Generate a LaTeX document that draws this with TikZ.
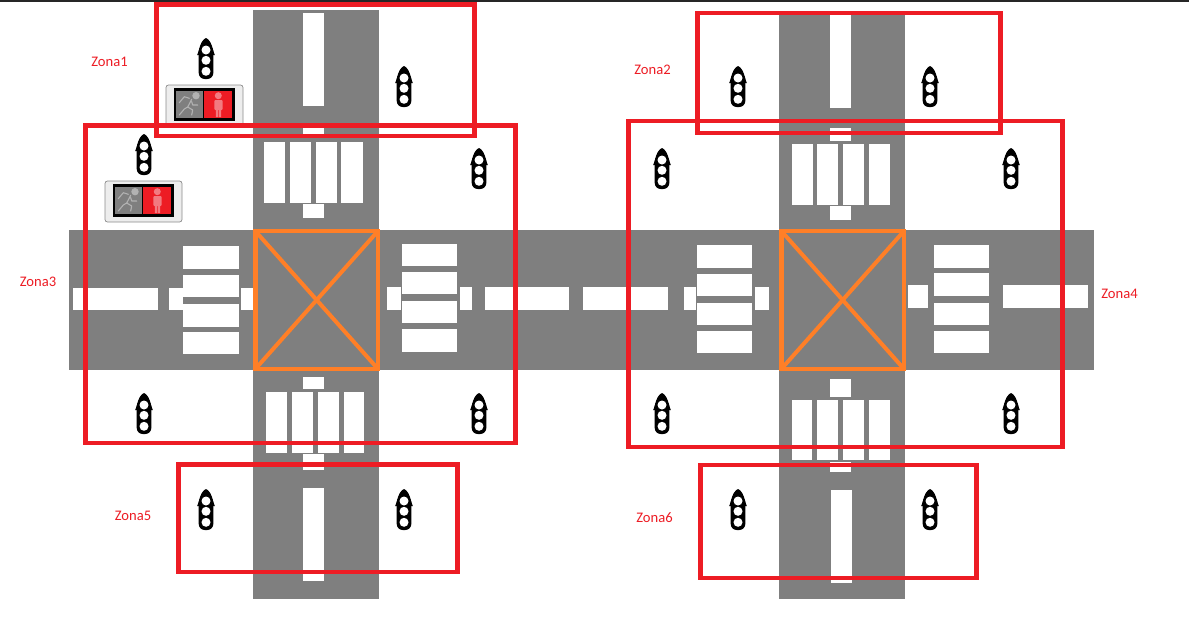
\documentclass[tikz,border=0pt]{standalone}
\usepackage{fontspec}
\setmainfont{Carlito}
\definecolor{road}{HTML}{7F7F7F}
\definecolor{zonered}{HTML}{ED1C24}
\definecolor{xorange}{HTML}{FF7F27}
\definecolor{palefig}{HTML}{F27A80}
\tikzset{
  zonebox/.style={draw=zonered,line width=4.7pt},
  marking/.style={fill=white},
  zonelabel/.style={text=zonered,font=\fontsize{14.6}{16}\selectfont,inner sep=0pt},
  crossbox/.style={draw=xorange,line width=4.4pt},
  crossline/.style={draw=xorange,line width=4pt},
  tlight/.pic={
    \fill[black] (0,-21) .. controls (3,-20) and (6,-15) .. (7,-9) -- (8.8,-4) -- (-8.8,-4) -- (-7,-9) .. controls (-6,-15) and (-3,-20) .. (0,-21) -- cycle;
    \fill[black,rounded corners=6pt] (-7.3,-14) rectangle (7.3,20);
    \foreach \cy in {-9,1.3,12.3}{\fill[white] (0,\cy) circle (4.5);}
  },
  pedsignal/.pic={
    \draw[draw=black!45,fill=black!7,rounded corners=2.5pt,line width=0.7pt] (0,0) rectangle (77,41);
    \fill[black] (8,3) rectangle (69,36);
    \fill[road] (10,6) rectangle (37,33);
    \fill[zonered] (38,6) rectangle (66,33);
    \fill[black!30] (30,10.7) circle (3.7);
    \draw[black!30,line width=1.1pt,line join=round,line cap=round]
      (23.3,13.3) -- (18.3,11.7) -- (13.3,17.7)
      (25.7,14.3) -- (21.7,22) -- (26.7,25) -- (25.7,30)
      (21.7,22) -- (18.3,24) -- (13.3,30)
      (25.7,16.7) -- (26.7,20) -- (31.7,20);
    \fill[palefig] (52.3,10.7) circle (3.5);
    \fill[palefig,rounded corners=1pt] (48.3,15) rectangle (56.7,25);
    \fill[palefig] (49.8,25) rectangle (52,32) (52.8,25) rectangle (55,32);
  }
}
\begin{document}
\begin{tikzpicture}[x=1pt,y=-1pt]
\useasboundingbox (0,0) rectangle (1189,641);
\fill[white] (0,0) rectangle (1189,641);
\fill[black!85] (0,0) rectangle (1189,1.5);
% roads
\fill[road] (253,10) rectangle (379,599);
\fill[road] (779,14) rectangle (905,599);
\fill[road] (69,230) rectangle (1094,370);
% markings
\foreach \xa/\ya/\xb/\yb in {
 303/13/324/106, 303/128/324/135, 264/142/285/203, 290/142/311/203, 316/142/337/203, 341/142/363/203, 303/204/324/218,
 303/377/324/389, 266/392/287/453, 292/392/313/453, 318/392/339/453, 344/392/364/453, 303/454/324/470, 303/488/324/581,
 830/15/851/108, 830/128/851/141, 792/144/813/205, 817/144/838/205, 843/144/864/205, 869/144/890/205, 830/206/851/220,
 830/379/851/397, 792/400/812/460, 817/400/838/460, 843/400/864/460, 869/400/890/460, 830/462/851/472, 831/490/852/583,
 73/288/158/310, 169/288/183/310, 183/246/239/269, 183/275/239/297, 183/304/239/327, 183/332/239/354, 241/288/253/310,
 387/287/401/310, 402/244/457/266, 402/272/457/294, 402/301/457/323, 402/329/457/352, 460/287/472/310, 485/287/569/310,
 583/287/668/310, 684/287/696/310, 697/245/752/268, 697/274/752/296, 697/303/752/325, 697/331/752/353, 755/287/769/310,
 908/285/928/308, 934/245/989/268, 934/273/989/296, 934/303/989/325, 934/331/989/353, 1003/285/1088/308}{
  \path[marking] (\xa,\ya) rectangle (\xb,\yb);
}
% junctions
\foreach \xa/\xb in {255.3/378,781.3/904}{
  \draw[crossline] (\xa,231) -- (\xb,369) (\xa,369) -- (\xb,231);
  \draw[crossbox] (\xa,231) rectangle (\xb,369);
}
% traffic lights
\foreach \cx/\cy in {206/59, 404/87, 144/155, 479/169, 144/414, 479/414, 206/510, 404/510,
  738/87, 930/87, 662/169, 1011/169, 662/414, 1011/414, 738/510, 930/510}{
  \pic at (\cx,\cy) {tlight};
}
% pedestrian signals
\pic at (166,85) {pedsignal};
\pic at (105,181) {pedsignal};
% zones
\draw[zonebox] (156.5,4.5) rectangle (474.5,136);
\draw[zonebox] (85.5,125.5) rectangle (515.5,443);
\draw[zonebox] (697.5,13) rectangle (1000.5,133);
\draw[zonebox] (628.5,121) rectangle (1062.5,447);
\draw[zonebox] (178.5,464.5) rectangle (457.5,572);
\draw[zonebox] (700.5,465) rectangle (976.5,578);
\node[zonelabel] (z1) at (109.5,61.5) {Zona1};
\node[zonelabel] (z2) at (652.5,70) {Zona2};
\node[zonelabel] (z3) at (38,282) {Zona3};
\node[zonelabel] (z4) at (1119.5,294) {Zona4};
\node[zonelabel] (z5) at (133,516) {Zona5};
\node[zonelabel] (z6) at (654.5,518) {Zona6};
\end{tikzpicture}
\end{document}
